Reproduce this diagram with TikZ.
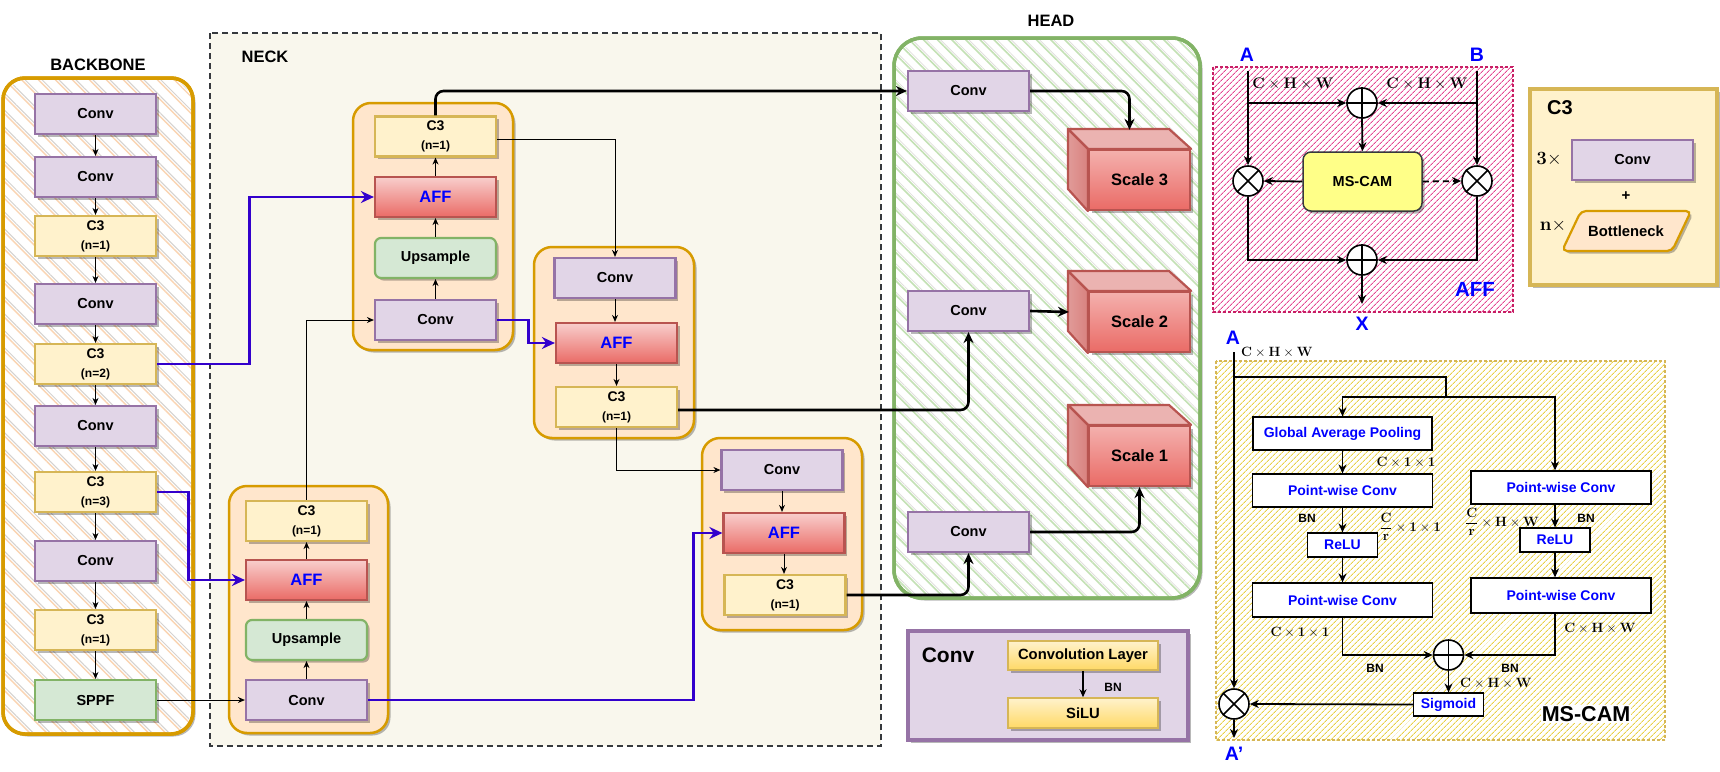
\documentclass[tikz,border=0pt]{standalone}
\usepackage[no-math]{fontspec}
\usepackage{graphicx}
\setmainfont{Liberation Sans}
\usetikzlibrary{arrows.meta,shadows,patterns.meta,calc}
\newcommand\fsz[1]{\fontsize{#1}{#1}\selectfont}
\newcommand\chw{$\mathbf{C}\times\mathbf{H}\times\mathbf{W}$}
\newcommand\mS[1]{\scalebox{1.12}{#1}}
\newcommand\mA[1]{\scalebox{1.06}{#1}}
\newcommand\mB[1]{\scalebox{1.3}{#1}}
\definecolor{convfill}{HTML}{E1D5E7}\definecolor{convdraw}{HTML}{9673A6}
\definecolor{c3fill}{HTML}{FFF2CC}\definecolor{c3draw}{HTML}{D6B656}
\definecolor{afftop}{HTML}{F8CECC}\definecolor{affbot}{HTML}{EA6B66}\definecolor{affdraw}{HTML}{B85450}
\definecolor{grfill}{HTML}{D5E8D4}\definecolor{grdraw}{HTML}{82B366}
\definecolor{orfill}{HTML}{FFE6CC}\definecolor{ordraw}{HTML}{D79B00}
\definecolor{neckbg}{HTML}{F9F7ED}\definecolor{neckdraw}{HTML}{36393D}
\definecolor{bblue}{HTML}{3300CC}\definecolor{tblue}{HTML}{0000FF}
\definecolor{msfill}{HTML}{FFFF88}
\definecolor{bbhatch}{RGB}{250,212,178}\definecolor{hdhatch}{RGB}{195,225,180}
\definecolor{grayhatch}{RGB}{212,210,208}
\definecolor{affhatch}{RGB}{228,70,145}\definecolor{affborder}{RGB}{200,30,100}
\definecolor{mshatch}{RGB}{232,208,70}\definecolor{msborder}{RGB}{214,182,86}
\definecolor{cubetop}{HTML}{EBB3B1}\definecolor{cubeside}{HTML}{D9827F}
\definecolor{ytop}{HTML}{FFF2CC}\definecolor{ybot}{HTML}{FFD966}
\begin{document}
\begin{tikzpicture}[x=1pt,y=-1pt,
 sh/.style={drop shadow={shadow xshift=2.5pt,shadow yshift=-2.5pt,fill=black,opacity=0.28}},
 blk/.style={draw,line width=2.2pt,minimum width=121pt,minimum height=40pt,inner sep=0pt,font=\bfseries\fsz{14.5},sh},
 convbox/.style={blk,fill=convfill,draw=convdraw},
 c3box/.style={blk,fill=c3fill,draw=c3draw,align=center,font=\bfseries\fontsize{14}{14}\selectfont},
 affbox/.style={blk,draw=affdraw,top color=afftop,bottom color=affbot,text=tblue,font=\bfseries\fsz{16.5}},
 upbox/.style={blk,fill=grfill,draw=grdraw,rounded corners=6pt},
 sppfbox/.style={blk,fill=grfill,draw=grdraw},
 grp/.style={draw=ordraw,fill=orfill,line width=2.5pt,rounded corners=18pt,sh},
 thinarr/.style={line width=0.9pt,-{Stealth[length=7pt,width=6pt]}},
 thickarr/.style={line width=2.6pt,rounded corners=8pt,-{Stealth[length=11pt,width=10pt]}},
 bluearr/.style={line width=2.9pt,draw=bblue,-{Stealth[length=13pt,width=12pt]}},
 lbl/.style={font=\bfseries\fsz{16.5}},
 bluelbl/.style={font=\bfseries\fsz{19.5},text=tblue},
 scalef/.style={draw=affdraw,line width=2.2pt,top color=afftop!70!affbot,bottom color=affbot,minimum width=101pt,minimum height=60pt,inner sep=0pt,font=\bfseries\fsz{16.5},sh},
 cubeface/.style={draw=affdraw,line width=2.2pt,line join=round},
 opc/.style={circle,draw,line width=1.6pt,minimum size=30pt,inner sep=0pt,fill=white},
 affarr/.style={line width=1.8pt,-{Stealth[length=9pt,width=8pt]}},
 mbox/.style={draw,line width=1.2pt,fill=white,text=tblue,font=\bfseries\fsz{14},inner sep=0pt},
 mlab/.style={font=\fsz{12},inner sep=0pt},
 afflab/.style={font=\fsz{14.4},inner sep=0pt},
 biglab/.style={font=\fsz{14.4},inner sep=0pt},
 bnlab/.style={font=\bfseries\fsz{12},inner sep=0pt},
 ybox/.style={draw=c3draw,line width=1.5pt,top color=ytop,bottom color=ybot,minimum width=150pt,minimum height=29pt,inner sep=0pt,font=\bfseries\fsz{14.8},sh},
]
\useasboundingbox (0,0) rectangle (1720,771);

% ---------- containers ----------
\draw[sh,preaction={fill=white},draw=ordraw,line width=3.5pt,rounded corners=22pt,
  pattern={Lines[angle=-45,distance=12pt,line width=1.4pt]},pattern color=bbhatch] (3,78) rectangle (193,734);
\path[rounded corners=22pt,pattern={Lines[angle=-45,distance=12pt,line width=1pt,xshift=3.5pt]},pattern color=grayhatch] (5,80) rectangle (191,732);
\draw[draw=ordraw,line width=3.5pt,rounded corners=22pt] (3,78) rectangle (193,734);
\node[lbl] (bbl) at (98,65) {BACKBONE};

\draw[draw=neckdraw,line width=1.5pt,dash pattern=on 6pt off 4pt,fill=neckbg] (210,33) rectangle (881,746);
\node[lbl] (neckl) at (265,57) {NECK};
\draw[grp] (353,103) rectangle (513,350);
\draw[grp] (229,486) rectangle (388,733);
\draw[grp] (534,247) rectangle (694,438);
\draw[grp] (702,438) rectangle (862,630);

\draw[sh,preaction={fill=white},draw=grdraw,line width=3.5pt,rounded corners=28pt,
  pattern={Lines[angle=-45,distance=10pt,line width=1.6pt]},pattern color=hdhatch] (894,38) rectangle (1200,598);
\path[rounded corners=28pt,pattern={Lines[angle=-45,distance=10pt,line width=0.8pt,xshift=3pt]},pattern color=grayhatch!70!white] (896,40) rectangle (1198,596);
\draw[draw=grdraw,line width=3.5pt,rounded corners=28pt] (894,38) rectangle (1200,598);
\node[lbl] (headl) at (1051,21) {HEAD};

\draw[preaction={fill=white},draw=affborder,line width=1.2pt,dash pattern=on 3pt off 2pt,
  pattern={Lines[angle=45,distance=4pt,line width=1pt]},pattern color=affhatch] (1213,67) rectangle (1513,312);
\draw[preaction={fill=white},draw=msborder,line width=1.2pt,dash pattern=on 3pt off 2pt,
  pattern={Lines[angle=45,distance=4pt,line width=1pt]},pattern color=mshatch] (1216,361) rectangle (1665,740);
\draw[sh,fill=c3fill,draw=c3draw,line width=3.5pt] (1530,89) rectangle (1717,285);
\draw[sh,fill=convfill,draw=convdraw,line width=3.5pt] (908,631) rectangle (1188,740);

% ---------- backbone ----------
\node[convbox] (b1) at (95.5,114) {Conv};
\node[convbox] (b2) at (95.5,177) {Conv};
\node[c3box] (b3) at (95.5,236) {C3\\[5pt]\fsz{12}(n=1)};
\node[convbox] (b4) at (95.5,304) {Conv};
\node[c3box] (b5) at (95.5,364) {C3\\[5pt]\fsz{12}(n=2)};
\node[convbox] (b6) at (95.5,426) {Conv};
\node[c3box] (b7) at (95.5,492) {C3\\[5pt]\fsz{12}(n=3)};
\node[convbox] (b8) at (95.5,561) {Conv};
\node[c3box] (b9) at (95.5,630) {C3\\[5pt]\fsz{12}(n=1)};
\node[sppfbox] (b10) at (95.5,700) {SPPF};
\foreach \a/\b in {b1/b2,b2/b3,b3/b4,b4/b5,b5/b6,b6/b7,b7/b8,b8/b9,b9/b10}
  \draw[thinarr] (\a.south) -- (\b.north);

% ---------- neck ----------
\node[convbox] (nA1) at (435.5,320) {Conv};
\node[upbox] (nA2) at (435.5,258) {Upsample};
\node[affbox] (nA3) at (435.5,197) {AFF};
\node[c3box] (nA4) at (435.5,136.5) {C3\\[5pt]\fsz{12}(n=1)};
\node[convbox] (nB1) at (306.5,700) {Conv};
\node[upbox] (nB2) at (306.5,640) {Upsample};
\node[affbox] (nB3) at (306.5,580) {AFF};
\node[c3box] (nB4) at (306.5,521) {C3\\[5pt]\fsz{12}(n=1)};
\node[convbox] (nC1) at (615,278) {Conv};
\node[affbox] (nC2) at (616.5,343) {AFF};
\node[c3box] (nC3) at (616.5,407) {C3\\[5pt]\fsz{12}(n=1)};
\node[convbox] (nD1) at (782,470) {Conv};
\node[affbox] (nD2) at (784,533) {AFF};
\node[c3box] (nD3) at (785,595) {C3\\[5pt]\fsz{12}(n=1)};
\foreach \a/\b in {nA1/nA2,nA2/nA3,nA3/nA4,nB1/nB2,nB2/nB3,nB3/nB4}
  \draw[thinarr] (\a.north) -- (\b.south);
\draw[thinarr] (nC1.south) -- (nC1.south |- nC2.north);
\draw[thinarr] (nC2.south) -- (nC3.north);
\draw[thinarr] (nD1.south) -- (nD1.south |- nD2.north);
\draw[thinarr] (nD2.south) -- (nD2.south |- nD3.north);

% ---------- head ----------
\node[convbox] (hc1) at (968.5,91) {Conv};
\node[convbox] (hc2) at (968.5,311) {Conv};
\node[convbox] (hc3) at (968.5,532) {Conv};
\foreach \s/\y/\t in {s3/180/Scale 3,s2/322/Scale 2,s1/456/Scale 1}{
  \node[scalef] (\s) at (1139.5,\y) {\t};
  \node[inner sep=0pt,minimum width=121pt,minimum height=80pt] (\s b) at (1129.5,\y-10) {};
  \draw[cubeface,fill=cubetop] (\s.north west) -- ++(-20,-20) -- ++(101,0) -- (\s.north east) -- cycle;
  \draw[cubeface,left color=cubeside!80!white,right color=cubeside] (\s.north west) -- ++(-20,-20) -- ++(0,60) -- (\s.south west) -- cycle;
}
\draw[thickarr] (hc1.east) -| (s3b.north);
\draw[thickarr] (hc2.east) -- (s2b.west);
\draw[thickarr] (hc3.east) -| (s1.south);

% ---------- connectors ----------
\draw[bluearr] (b5.east) -- ++(92,0) |- (nA3.west);
\draw[bluearr] (b7.east) -- ++(31,0) |- (nB3.west);
\draw[thinarr] (b10.east) -- (nB1.west);
\draw[bluearr] (nB1.east) -| ([xshift=-29pt]nD2.west) -- (nD2.west);
\draw[thinarr] (nB4.north) |- (nA1.west);
\draw[bluearr] (nA1.east) -| ([xshift=-26pt]nC2.west) -- (nC2.west);
\draw[thinarr] ([yshift=-3pt]nA4.east) -| (nC1.north);
\draw[thickarr] (nA4.north) |- (hc1.west);
\draw[thinarr] (nC3.south) |- (nD1.west);
\draw[thickarr] ([yshift=-3pt]nC3.east) -| (hc2.south);
\draw[thickarr] (nD3.east) -| (hc3.south);

% ---------- AFF module ----------
\node[bluelbl] (lA) at (1247,55) {A};
\node[bluelbl] (lB) at (1477,55) {B};
\coordinate (aA) at (1248,71);
\coordinate (aB) at (1477,71);
\node[afflab] (cA) at (1293,84) {\mA{\chw}};
\node[afflab] (cB) at (1427,84) {\mA{\chw}};
\node[opc] (opT) at (1362,103) {};
\node[opc] (otL) at (1248,181) {};
\node[opc] (otR) at (1477,181) {};
\node[opc] (opB) at (1362,260) {};
\node[draw=neckdraw,fill=msfill,rounded corners=8pt,line width=1.5pt,minimum width=119pt,minimum height=59pt,font=\bfseries\fsz{14.5},sh] (msc) at (1362.5,181.5) {MS-CAM};
\coordinate (xo) at (1362,304);
\draw[affarr] (aA) -- (otL.north);
\draw[affarr] (aB) -- (otR.north);
\draw[affarr] (aA |- opT) -- (opT.west);
\draw[affarr] (aB |- opT) -- (opT.east);
\draw[affarr] (opT.south) -- (msc.north);
\draw[affarr] (msc.west) -- (otL.east);
\draw[affarr,dash pattern=on 6pt off 4pt] (msc.east) -- (otR.west);
\draw[affarr] (otL.south) |- (opB.west);
\draw[affarr] (otR.south) |- (opB.east);
\draw[affarr] (opB.south) -- (xo);
\node[bluelbl] (lX) at (1362,324) {X};
\node[font=\bfseries\fsz{20.5},text=tblue] (affl) at (1475,289) {AFF};
\foreach \n in {opT,opB} \draw[line width=1.6pt] (\n.north) -- (\n.south) (\n.west) -- (\n.east);
\foreach \n in {otL,otR} \draw[line width=1.6pt] (\n.north west) -- (\n.south east) (\n.north east) -- (\n.south west);

% ---------- C3 legend ----------
\node[font=\bfseries\fsz{20}] (c3l) at (1560,108) {C3};
\node[biglab] (m3) at (1549,159) {\mB{$\mathbf{3}\times$}};
\node[convbox] (lgc) at (1632.5,160) {Conv};
\node[font=\bfseries\fsz{15}] (plus) at (1626,196) {+};
\node[biglab] (mn) at (1553,226) {\mB{$\mathbf{n}\times$}};
\draw[sh,fill=orfill,draw=ordraw,line width=2.2pt,rounded corners=5pt] (1562,251) -- (1581,211) -- (1691,211) -- (1672,251) -- cycle;
\node[font=\bfseries\fsz{14.8}] (bneck) at (1626,231) {Bottleneck};

% ---------- Conv legend ----------
\node[font=\bfseries\fsz{21}] (clg) at (948,655) {Conv};
\node[ybox] (cl) at (1083,655.5) {Convolution Layer};
\node[ybox,minimum height=30pt] (sl) at (1083,713) {SiLU};
\draw[line width=1.8pt,-{Stealth[length=8pt,width=7pt]}] (cl.south) -- (sl.north);
\node[bnlab] (bn0) at (1113,687) {BN};

% ---------- MS-CAM module ----------
\node[bluelbl] (lA2) at (1233,338) {A};
\node[mlab,anchor=west] (cm0) at (1241,352) {\mS{\chw}};
\coordinate (aM) at (1234,352);
\coordinate (jM) at (1234,377);
\coordinate (jBr) at (1446,397);
\node[mbox,minimum width=179pt,minimum height=33pt] (gap) at (1342.5,433.5) {Global Average Pooling};
\node[mbox,minimum width=180pt,minimum height=33pt] (pwL1) at (1342.5,490.5) {Point-wise Conv};
\node[mbox,minimum width=70pt,minimum height=24pt] (reluL) at (1342.5,545) {ReLU};
\node[mbox,minimum width=180pt,minimum height=34pt] (pwL2) at (1342.5,600) {Point-wise Conv};
\node[mbox,minimum width=180pt,minimum height=33pt] (pwR1) at (1561,487.5) {Point-wise Conv};
\node[mbox,minimum width=70pt,minimum height=24pt] (reluR) at (1555,540) {ReLU};
\node[mbox,minimum width=180pt,minimum height=35pt] (pwR2) at (1561,595.5) {Point-wise Conv};
\node[opc] (opM) at (1448.5,655) {};
\node[mbox,minimum width=70pt,minimum height=23pt] (sig) at (1448.5,704.5) {Sigmoid};
\node[opc] (otM) at (1234,704) {};
\coordinate (aOut) at (1234,738);
\draw[line width=1.8pt] (jM) -| (jBr);
\draw[affarr] (jBr) -| (gap.north);
\draw[affarr] (jBr) -| (reluR.north |- pwR1.north);
\draw[affarr] (aM) -- (otM.north);
\draw[affarr] (gap.south) -- (pwL1.north);
\draw[affarr] (pwL1.south) -- (reluL.north);
\draw[affarr] (reluL.south) -- (pwL2.north);
\draw[affarr] (reluR.north |- pwR1.south) -- (reluR.north);
\draw[affarr] (reluR.south) -- (reluR.south |- pwR2.north);
\draw[affarr] (pwL2.south) |- (opM.west);
\draw[affarr] (reluR.south |- pwR2.south) |- (opM.east);
\draw[affarr] (opM.south) -- (sig.north);
\draw[affarr] (sig.west) -- (otM.east);
\draw[affarr] (otM.south) -- (aOut);
\draw[line width=1.6pt] (opM.north) -- (opM.south) (opM.west) -- (opM.east);
\draw[line width=1.6pt] (otM.north west) -- (otM.south east) (otM.north east) -- (otM.south west);
\node[bluelbl] (lA3) at (1234,754) {A'};
\node[mlab] (m1) at (1406,462) {\mS{$\mathbf{C}\times\mathbf{1}\times\mathbf{1}$}};
\node[bnlab] (bn1) at (1307,518) {BN};
\node[mlab] (m2) at (1410,527) {\mS{$\displaystyle\frac{\mathbf{C}}{\mathbf{r}}\times\mathbf{1}\times\mathbf{1}$}};
\node[mlab] (m3r) at (1502,522) {\mS{$\displaystyle\frac{\mathbf{C}}{\mathbf{r}}\times\mathbf{H}\times\mathbf{W}$}};
\node[bnlab] (bn2) at (1586,518) {BN};
\node[mlab] (m4) at (1300,632) {\mS{$\mathbf{C}\times\mathbf{1}\times\mathbf{1}$}};
\node[mlab] (m5) at (1600,628) {\mS{\chw}};
\node[bnlab] (bn3) at (1375,668) {BN};
\node[bnlab] (bn4) at (1510,668) {BN};
\node[mlab,anchor=west] (m6) at (1460,683) {\mS{\chw}};
\node[font=\bfseries\fsz{21.5},fill=white,inner sep=1pt] (mscl) at (1586,714) {MS-CAM};
\end{tikzpicture}
\end{document}
